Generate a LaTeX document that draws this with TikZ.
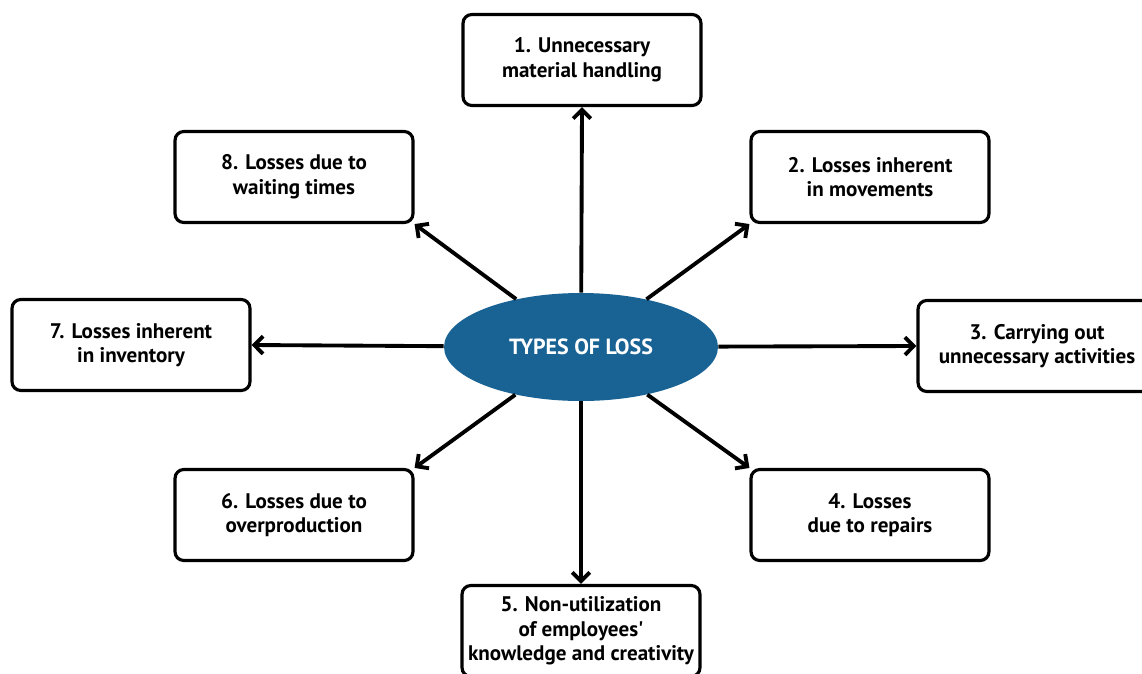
\documentclass[tikz,border=0pt]{standalone}
\usepackage{fontspec}
\setmainfont{PT Sans}[Ligatures=TeXOff]
\usepackage{tikz}
\usetikzlibrary{arrows.meta,shapes.geometric}

\definecolor{lossblue}{RGB}{24,98,148}

\begin{document}
\begin{tikzpicture}[x=0.02cm,y=-0.02cm,>={Straight Barb[length=5pt,width=10pt]},
          every node/.style={font=\bfseries\fontsize{12}{14}\selectfont,align=center},
          lossbox/.style={draw,line width=1.8pt,rounded corners=5pt,fill=white,
            minimum width=4.76cm,minimum height=1.82cm,inner sep=1pt},
          hub/.style={ellipse,fill=lossblue,text=white,inner sep=0pt,
            minimum width=5.48cm,minimum height=2.16cm,
            font=\bfseries\fontsize{12.5}{14}\selectfont}]
        \useasboundingbox (0,0) rectangle (1142,673);
        \node[hub] (loss) at (581,347) {TYPES OF LOSS};
        \node[lossbox] (b1) at (582,60) {1. Unnecessary\\material handling};
        \node[lossbox] (b2) at (870,177) {2. Losses inherent\\in movements};
        \node[lossbox] (b3) at (1037,346) {3. Carrying out\\unnecessary activities};
        \node[lossbox] (b4) at (870,515) {4. Losses\\due to repairs};
        \node[lossbox] (b5) at (581,631) {5. Non-utilization\\of employees'\\knowledge and creativity};
        \node[lossbox] (b6) at (294,515) {6. Losses due to\\overproduction};
        \node[lossbox] (b7) at (131,345) {7. Losses inherent\\in inventory};
        \node[lossbox] (b8) at (294,177) {8. Losses due to\\waiting times};
        \foreach \t in {b1.south,b2.south west,b3.west,b4.north west,
                        b5.north,b6.north east,b7.east,b8.south east}
          \draw[->,line width=2.2pt] (loss) -- (\t);
      \end{tikzpicture}
\end{document}
